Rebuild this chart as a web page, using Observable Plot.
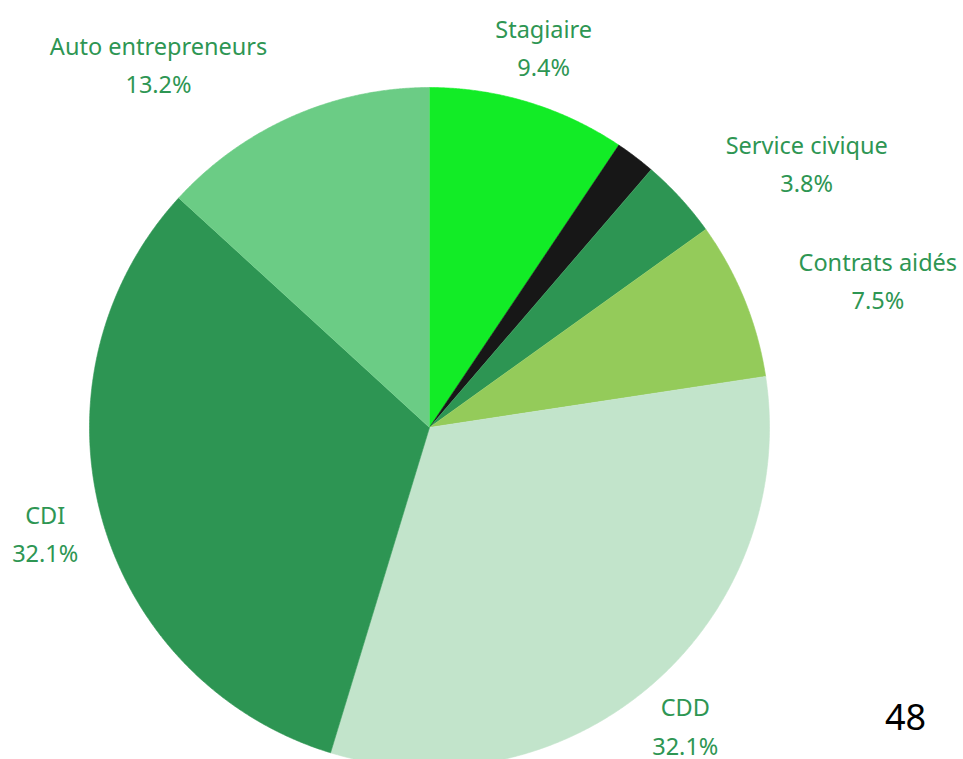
<!DOCTYPE html>
<html>
<head>
<meta charset="utf-8">
<script src="https://cdn.jsdelivr.net/npm/d3@7"></script>
<script src="https://cdn.jsdelivr.net/npm/@observablehq/plot@0.6"></script>
<style>
  html, body { margin: 0; padding: 0; background: #fff; }
  #chart svg { display: block; }
</style>
</head>
<body>
<div id="chart"></div>
<script>
// Data (percent shares, clockwise from 12 o'clock)
const categories = ["Stagiaire", "Autre", "Service civique", "Contrats aidés", "CDD", "CDI", "Auto entrepreneurs"];
const shares = [9.4, 1.9, 3.8, 7.5, 32.1, 32.1, 13.2];
const colors = ["#12ec26", "#171717", "#2d9553", "#94cb5a", "#c2e4cb", "#2d9553", "#6bcc85"];
const showLabel = [true, false, true, true, true, true, true];
// label placement tweaks: angle offset (deg) from slice mid-angle, radius relative to pie radius
const labelAngleOffset = [-0.3, 0, 7.2, 3.7, 0, 0.3, -12.8];
const labelRadius = [1.174, 1.17, 1.359, 1.39, 1.15, 1.17, 1.338];
const pageNumber = "48";

const total = d3.sum(shares);
let cum = 0;
const slices = categories.map((c, i) => {
  const a0 = cum / total * 360;
  cum += shares[i];
  const a1 = cum / total * 360;
  return {label: c, share: shares[i], a0, a1, i};
});

const rad = Math.PI / 180;
const points = [];
for (const s of slices) {
  points.push({label: s.label, x: 0, y: 0});
  const n = Math.max(2, Math.ceil((s.a1 - s.a0) / 0.25));
  for (let k = 0; k <= n; k++) {
    const a = (s.a0 + (s.a1 - s.a0) * k / n) * rad;
    points.push({label: s.label, x: Math.sin(a), y: Math.cos(a)});
  }
}

const labels = slices.filter(s => showLabel[s.i]).map(s => {
  const a = ((s.a0 + s.a1) / 2 + labelAngleOffset[s.i]) * rad;
  const r = labelRadius[s.i];
  return {text: `${s.label}\n${s.share.toFixed(1)}%`, x: r * Math.sin(a), y: r * Math.cos(a)};
});

const chart = Plot.plot({
  width: 963,
  height: 759,
  margin: 0,
  style: {fontFamily: "'Noto Sans', sans-serif", background: "#fff"},
  x: {domain: [-1, 1], range: [89, 769], axis: null},
  y: {domain: [-1, 1], range: [767, 87], axis: null},
  color: {domain: categories, range: colors},
  marks: [
    Plot.line(points, {x: "x", y: "y", z: "label", fill: "label", stroke: "label", strokeWidth: 0.6}),
    Plot.text(labels, {x: "x", y: "y", text: "text", fill: "#2e9653", fontSize: 23.5, lineHeight: 1.63}),
    Plot.text([pageNumber], {frameAnchor: "bottom-right", textAnchor: "middle", lineAnchor: "middle", dx: -58, dy: -41, fontSize: 36, fill: "#000"})
  ]
});
document.getElementById("chart").appendChild(chart);
</script>
</body>
</html>
